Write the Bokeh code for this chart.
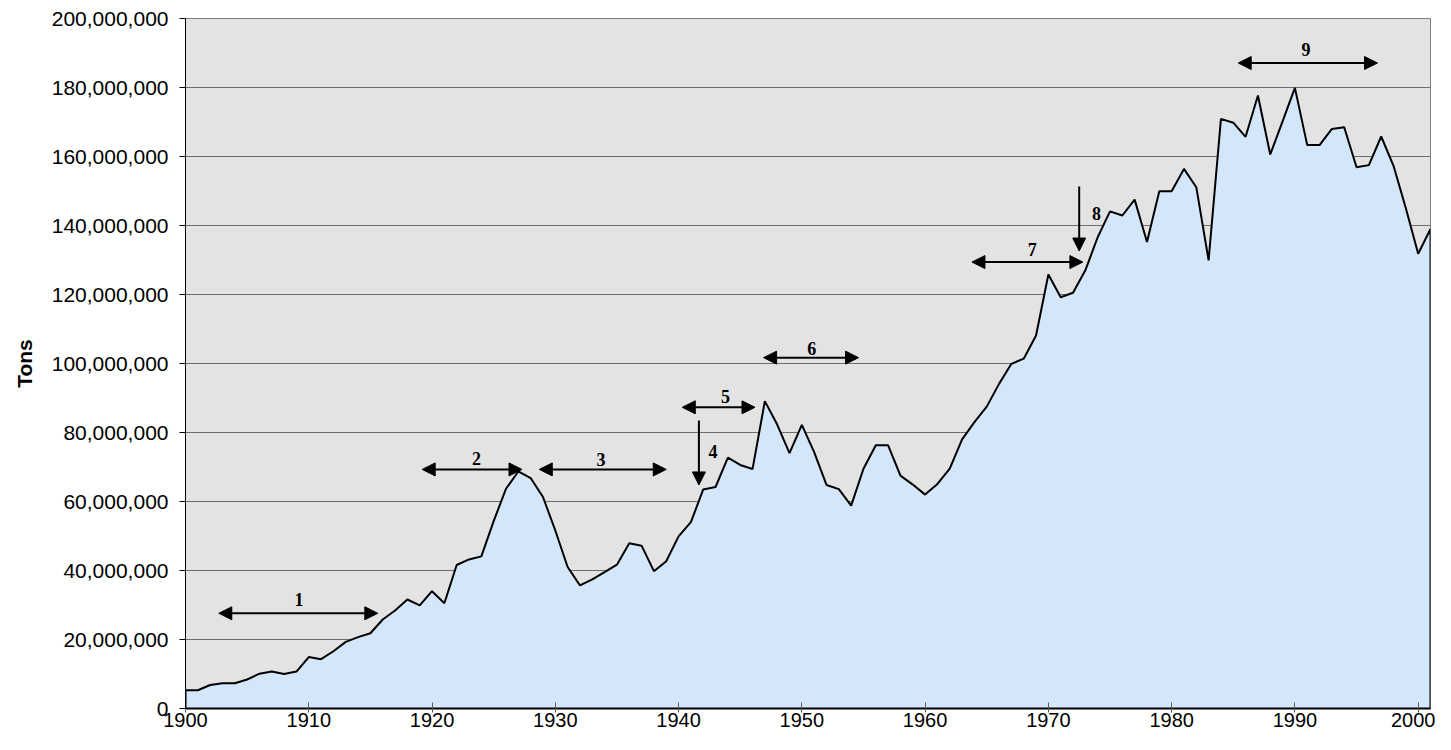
from bokeh.plotting import figure
from bokeh.models import Arrow, NormalHead, NumeralTickFormatter, FixedTicker, Range1d, ColumnDataSource
from bokeh.core.properties import value
from bokeh.embed import file_html
from bokeh.resources import INLINE

# ---- data (values in millions of tons) ----
years = list(range(1900, 2002))
tons_millions = [
    5.3, 5.3, 6.8, 7.3, 7.3, 8.4, 10.1, 10.7, 10.0, 10.7,
    14.9, 14.3, 16.6, 19.3, 20.7, 21.8, 25.8, 28.4, 31.6, 29.9,
    34.0, 30.5, 41.6, 43.2, 44.1, 54.3, 63.7, 68.7, 66.8, 61.3,
    51.6, 41.0, 35.7, 37.4, 39.5, 41.7, 47.9, 47.2, 39.8, 42.7,
    49.9, 54.0, 63.5, 64.2, 72.7, 70.6, 69.4, 89.1, 82.3, 74.0,
    82.2, 74.3, 64.8, 63.6, 58.8, 69.5, 76.3, 76.3, 67.5, 64.9,
    62.0, 65.1, 69.5, 78.0, 83.0, 87.5, 94.1, 99.9, 101.4, 108.1,
    125.8, 119.2, 120.5, 127.0, 136.6, 144.1, 142.9, 147.5, 135.2, 149.9,
    149.9, 156.4, 151.1, 129.9, 170.9, 169.8, 165.7, 177.7, 160.6, 170.2,
    179.9, 163.3, 163.3, 168.0, 168.5, 156.9, 157.5, 165.8, 157.3, 145.0,
    131.8, 139.0,
]
tons = [v * 1e6 for v in tons_millions]

# horizontal (double-headed) period arrows: start year, end year, level (millions)
period_x0 = [1902.7, 1919.2, 1928.7, 1940.3, 1946.9, 1963.8, 1985.4]
period_x1 = [1915.6, 1927.3, 1939.0, 1946.2, 1954.6, 1972.8, 1996.7]
period_y = [27.6, 69.3, 69.3, 87.3, 101.7, 129.4, 187.1]

# vertical event arrows: year, top level, tip level (millions)
event_x = [1941.65, 1972.5]
event_y0 = [83.5, 151.3]
event_y1 = [64.8, 132.6]

# number labels
label_text = ["1", "2", "3", "4", "5", "6", "7", "8", "9"]
label_x = [1909.2, 1923.6, 1933.7, 1942.8, 1943.8, 1950.8, 1968.7, 1973.9, 1990.9]
label_y = [31.5, 72.6, 72.2, 74.5, 90.4, 104.3, 133.0, 143.5, 191.0]

y_ticks = [i * 20e6 for i in range(11)]
x_ticks = list(range(1900, 2001, 10))

# ---- figure ----
p = figure(width=1435, height=734, output_backend="svg", toolbar_location=None,
           x_range=Range1d(1900, 2001), y_range=Range1d(0, 200e6),
           min_border_left=185, min_border_right=5, min_border_top=18, min_border_bottom=26)
p.border_fill_color = "white"
p.background_fill_color = "#E3E3E3"
p.outline_line_color = "#808080"
p.outline_line_width = 1

p.xgrid.grid_line_color = None
p.ygrid.grid_line_color = "#6E6E6E"
p.ygrid.grid_line_width = 1
p.ygrid.ticker = FixedTicker(ticks=y_ticks)

# area
p.varea(x=years, y1=0, y2=tons, fill_color="#D4E6FA")
line_x = [years[0]] + years + [years[-1]]
line_y = [0] + tons + [0]
p.line(line_x, line_y, line_color="black", line_width=2)

# arrows
for x0, x1, y in zip(period_x0, period_x1, period_y):
    p.add_layout(Arrow(x_start=x0, x_end=x1, y_start=y * 1e6, y_end=y * 1e6,
                       line_color="black", line_width=2,
                       start=NormalHead(size=13, fill_color="black", line_color="black", line_width=1),
                       end=NormalHead(size=13, fill_color="black", line_color="black", line_width=1)))
for x, y0, y1 in zip(event_x, event_y0, event_y1):
    p.add_layout(Arrow(x_start=x, x_end=x, y_start=y0 * 1e6, y_end=y1 * 1e6,
                       line_color="black", line_width=2,
                       end=NormalHead(size=13, fill_color="black", line_color="black", line_width=1)))

src = ColumnDataSource(dict(x=label_x, y=[v * 1e6 for v in label_y], t=label_text))
p.text(x="x", y="y", text="t", source=src, text_font=value("Liberation Serif"),
       text_font_style="bold", text_font_size="18px", text_align="center",
       text_baseline="middle", text_color="black")

# axes
p.yaxis.ticker = FixedTicker(ticks=y_ticks)
p.yaxis.formatter = NumeralTickFormatter(format="0,0")
p.yaxis.axis_label = "Tons"
p.yaxis.axis_label_text_font = "Liberation Sans"
p.yaxis.axis_label_text_font_style = "bold"
p.yaxis.axis_label_text_font_size = "21px"
p.yaxis.axis_label_text_color = "black"
p.yaxis.axis_label_standoff = 13
p.yaxis.major_label_text_font = "Liberation Sans"
p.yaxis.major_label_text_font_size = "21px"
p.yaxis.major_label_text_color = "black"
p.yaxis.major_label_standoff = 11
p.yaxis.major_tick_out = 6
p.yaxis.major_tick_in = 0
p.yaxis.minor_tick_line_color = None
p.yaxis.axis_line_color = "black"
p.yaxis.major_tick_line_color = "black"

p.xaxis.ticker = FixedTicker(ticks=x_ticks)
p.xaxis.major_label_text_font = "Liberation Sans"
p.xaxis.major_label_text_font_size = "20px"
p.xaxis.major_label_text_color = "black"
p.xaxis.major_label_standoff = 0
p.xaxis.major_tick_out = 4
p.xaxis.major_tick_in = 6
p.xaxis.minor_tick_line_color = None
p.xaxis.axis_line_color = "black"
p.xaxis.axis_line_width = 2
p.xaxis.major_tick_line_color = "#555555"

open("out.html", "w").write(file_html(p, INLINE))
